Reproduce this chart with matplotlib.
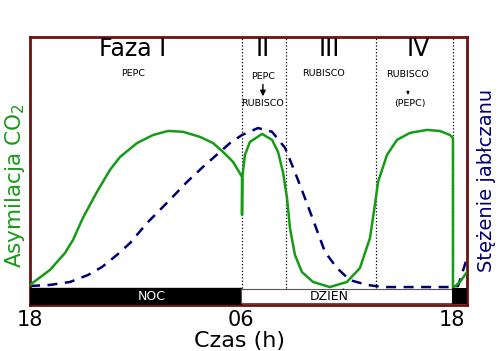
import numpy as np
import matplotlib
matplotlib.use('Agg')
import matplotlib.pyplot as plt

# time in hours after 18:00, values in arbitrary units (0-100)
co2_t = [0.00, 1.14, 1.99, 2.45, 3.01, 3.81, 4.55, 5.12, 6.09, 7.00, 7.85, 8.70,
         9.67, 10.41, 10.98, 11.55, 12.06, 12.06, 12.08, 12.23, 12.51, 13.20, 13.77,
         14.11, 14.39, 14.62, 14.79, 15.07, 15.47, 16.10, 17.06, 18.03, 18.77, 19.34,
         19.62, 19.80, 20.31, 20.88, 21.62, 22.58, 23.32, 23.89, 24.06, 24.06, 24.46, 24.86]
co2_v = [7.5, 13.1, 19.4, 24.3, 32.5, 42.2, 50.4, 55.2, 60.4, 63.4, 64.9, 64.6,
         62.7, 60.4, 57.1, 53.4, 47.8, 33.6, 47.8, 56.0, 60.8, 63.8, 61.6,
         57.1, 49.6, 39.9, 28.7, 18.7, 12.3, 8.6, 6.7, 8.6, 13.8, 25.0,
         37.3, 45.9, 56.0, 61.6, 64.2, 65.3, 64.9, 63.4, 62.3, 6.3, 8.6, 12.3]

malate_t = [0.00, 1.14, 2.28, 3.30, 4.10, 4.95, 5.69, 6.66, 7.79, 8.93, 9.84, 10.81,
            11.38, 12.06, 12.97, 13.77, 14.51, 15.07, 15.64, 16.21, 16.78, 17.46,
            18.20, 19.17, 20.08, 24.00, 24.35, 24.86]
malate_v = [7.1, 7.5, 8.6, 11.2, 14.2, 18.7, 23.1, 30.6, 38.1, 45.9, 51.5, 57.1,
            60.4, 63.4, 66.0, 64.6, 58.6, 49.6, 39.9, 29.9, 19.8, 13.8,
            9.3, 7.5, 6.7, 6.7, 7.1, 17.5]

phase_bounds = [12.06, 14.56, 19.68, 24.06]
phase_names = ['Faza I', 'II', 'III', 'IV']
phase_x = [5.85, 13.25, 17.05, 22.1]
tick_pos = [0, 12, 24]
tick_labels = ['18', '06', '18']

green = '#169b16'
navy = '#000070'
frame = '#6e1010'

fig = plt.figure(figsize=(5, 3.51), dpi=100)
ax = fig.add_axes([0.06, 0.131, 0.874, 0.764])
ax.set_xlim(0, 24.86)
ax.set_ylim(0, 100)

ax.plot(co2_t, co2_v, color=green, lw=1.8, zorder=3)
ax.plot(malate_t, malate_v, color=navy, lw=1.8, dashes=(4, 3), zorder=2)

for b in phase_bounds:
    ax.plot([b, b], [6.5, 100], color='black', lw=0.9, ls=':', zorder=1)

# night / day bar
ax.axhspan(0.4, 6.3, xmin=0, xmax=12 / 24.86, color='black', zorder=4)
ax.fill_between([12, 24], 0.6, 6.1, facecolor='white', edgecolor='#555555', lw=0.8, zorder=4)
ax.fill_between([24, 24.86], 0.4, 6.3, facecolor='black', lw=0, zorder=4)
ax.text(6.9, 3.3, 'NOC', color='white', fontsize=9, ha='center', va='center', zorder=5)
ax.text(17.0, 3.3, 'DZIEŃ', color='black', fontsize=9, ha='center', va='center', zorder=5)

for name, px in zip(phase_names, phase_x):
    ax.text(px, 95.3, name, fontsize=17, ha='center', va='center')

small = dict(fontsize=6.8, ha='center', va='center')
ax.text(5.85, 86.2, 'PEPC', **small)
ax.text(13.25, 85.4, 'PEPC', **small)
ax.text(13.25, 75.0, 'RUBISCO', **small)
ax.annotate('', xy=(13.25, 76.8), xytext=(13.25, 83.3),
            arrowprops=dict(arrowstyle='-|>', color='black', lw=1.0, mutation_scale=8))
ax.text(16.7, 86.2, 'RUBISCO', **small)
ax.text(21.45, 85.8, 'RUBISCO', **small)
ax.annotate('', xy=(21.5, 77.3), xytext=(21.5, 81.0),
            arrowprops=dict(arrowstyle='-|>', color='black', lw=0.7, mutation_scale=4))
ax.text(21.6, 75.0, '(PEPC)', **small)

ax.set_xticks([])
ax.set_yticks([])
for s in ax.spines.values():
    s.set_color(frame)
    s.set_linewidth(2)

for p, lab in zip(tick_pos, tick_labels):
    ax.text(p, -5.6, lab, fontsize=15, ha='center', va='center', clip_on=False)
ax.text(11.9, -13.4, 'Czas (h)', fontsize=16, ha='center', va='center', clip_on=False)

fig.text(0.03, 0.47, 'Asymilacja CO$_2$', rotation=90, color=green,
         fontsize=15.5, ha='center', va='center')
fig.text(0.974, 0.487, 'Stężenie jabłczanu', rotation=90, color=navy,
         fontsize=14, ha='center', va='center')

fig.savefig('out.png', dpi=100)
